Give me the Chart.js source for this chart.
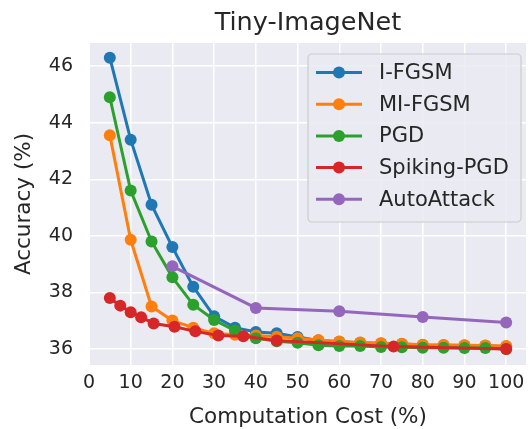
<!DOCTYPE html>
<html>
<head>
<meta charset="utf-8">
<script src="https://cdn.jsdelivr.net/npm/chart.js@4/dist/chart.umd.min.js"></script>
<style>
  html, body { margin: 0; padding: 0; background: #fff; }
  #wrap { width: 532px; height: 429px; }
</style>
</head>
<body>
<div id="wrap"><canvas id="chart" width="532" height="429"></canvas></div>
<script>
// values
const cost = [5, 10, 15, 20, 25, 30, 35, 40, 45, 50, 55, 60, 65, 70, 75, 80, 85, 90, 95, 100];
const iFgsm = [46.3, 43.4, 41.1, 39.6, 38.2, 37.15, 36.75, 36.6, 36.55, 36.42, 36.3, 36.25, 36.22, 36.19, 36.17, 36.14, 36.13, 36.12, 36.11, 36.08];
const miFgsm = [43.56, 39.86, 37.5, 37.0, 36.75, 36.55, 36.5, 36.47, 36.43, 36.38, 36.31, 36.26, 36.23, 36.2, 36.18, 36.15, 36.14, 36.13, 36.12, 36.1];
const pgd = [44.9, 41.6, 39.8, 38.53, 37.56, 37.02, 36.65, 36.38, 36.27, 36.22, 36.13, 36.1, 36.1, 36.07, 36.06, 36.04, 36.04, 36.03, 36.03, 36.0];
const spikingCost = [5, 7.5, 10, 12.5, 15.5, 20.5, 25.5, 31, 37, 45, 73, 100];
const spikingPgd = [37.8, 37.53, 37.3, 37.12, 36.9, 36.78, 36.62, 36.47, 36.45, 36.3, 36.08, 36.0];
const autoCost = [20, 40, 60, 80, 100];
const autoAttack = [38.92, 37.45, 37.33, 37.13, 36.93];

const xTicks = [0, 10, 20, 30, 40, 50, 60, 70, 80, 90, 100];
const yTicks = [36, 38, 40, 42, 44, 46];
const chartTitle = 'Tiny-ImageNet';

const ink = '#262626';
const font = 'DejaVu Sans';

function pts(xs, ys) {
    return xs.map((x, i) => ({ x: x, y: ys[i] }));
}

function series(label, xs, ys, color, order) {
    return {
        label: label,
        data: pts(xs, ys),
        borderColor: color,
        backgroundColor: color,
        borderWidth: 3,
        pointRadius: 6,
        pointHoverRadius: 6,
        pointBorderWidth: 0,
        tension: 0,
        order: order
    };
}

// grey panel behind the plot
const panel = {
    id: 'panel',
    beforeDraw(chart) {
        const a = chart.chartArea, c = chart.ctx;
        c.save();
        c.fillStyle = '#eaeaf2';
        c.fillRect(a.left, a.top, a.right - a.left, a.bottom - a.top);
        c.restore();
    }
};

// title centred over the plot area, plus a matplotlib style legend
const overlay = {
    id: 'overlay',
    afterDraw(chart) {
        const c = chart.ctx, a = chart.chartArea;
        c.save();
        c.fillStyle = ink;
        c.font = '25.5px "' + font + '"';
        c.textAlign = 'center';
        c.textBaseline = 'alphabetic';
        c.fillText(chartTitle, (a.left + a.right) / 2, 30);

        const x0 = 308, y0 = 54, w = 213, h = 168;
        c.beginPath();
        c.roundRect(x0, y0, w, h, 4);
        c.fillStyle = 'rgba(234,234,242,0.85)';
        c.fill();
        c.strokeStyle = '#cccccc';
        c.lineWidth = 1.2;
        c.stroke();
        c.font = '21px "' + font + '"';
        c.textAlign = 'left';
        c.textBaseline = 'middle';
        chart.data.datasets.forEach((ds, i) => {
            const y = 72.5 + i * 31.7;
            c.strokeStyle = ds.borderColor;
            c.lineWidth = 3;
            c.beginPath();
            c.moveTo(316, y);
            c.lineTo(362, y);
            c.stroke();
            c.fillStyle = ds.borderColor;
            c.beginPath();
            c.arc(339, y, 6, 0, Math.PI * 2);
            c.fill();
            c.fillStyle = ink;
            c.fillText(ds.label, 379, y + 1);
        });
        c.restore();
    }
};

new Chart(document.getElementById('chart'), {
    type: 'line',
    data: {
        datasets: [
            series('I-FGSM', cost, iFgsm, '#1f77b4', 5),
            series('MI-FGSM', cost, miFgsm, '#ff7f0e', 4),
            series('PGD', cost, pgd, '#2ca02c', 3),
            series('Spiking-PGD', spikingCost, spikingPgd, '#d62728', 2),
            series('AutoAttack', autoCost, autoAttack, '#9467bd', 1)
        ]
    },
    plugins: [panel, overlay],
    options: {
        responsive: false,
        animation: false,
        events: [],
        layout: { padding: { top: 43, right: 3, bottom: 0, left: 0 } },
        plugins: {
            legend: { display: false },
            tooltip: { enabled: false },
            title: { display: false }
        },
        scales: {
            x: {
                type: 'linear',
                min: 0.25,
                max: 104.75,
                afterFit: s => { s.height = 64; },
                afterBuildTicks: s => { s.ticks = xTicks.map(v => ({ value: v })); },
                border: { display: false },
                grid: { color: '#ffffff', lineWidth: 1.5, drawTicks: false },
                ticks: {
                    includeBounds: false,
                    color: ink,
                    padding: 7,
                    maxRotation: 0,
                    font: { family: font, size: 19 }
                },
                title: {
                    display: true,
                    text: 'Computation Cost (%)',
                    color: ink,
                    font: { family: font, size: 21.5, lineHeight: 1 },
                    padding: { top: 0, bottom: 1 }
                }
            },
            y: {
                type: 'linear',
                min: 35.43,
                max: 46.82,
                afterFit: s => { s.width = 90; },
                afterBuildTicks: s => { s.ticks = yTicks.map(v => ({ value: v })); },
                border: { display: false },
                grid: { color: '#ffffff', lineWidth: 1.5, drawTicks: false },
                ticks: {
                    includeBounds: false,
                    color: ink,
                    padding: 17,
                    font: { family: font, size: 19 }
                },
                title: {
                    display: true,
                    text: 'Accuracy (%)',
                    color: ink,
                    font: { family: font, size: 21.5, lineHeight: 1 },
                    padding: { top: 14, bottom: 0 }
                }
            }
        }
    }
});
</script>
</body>
</html>
